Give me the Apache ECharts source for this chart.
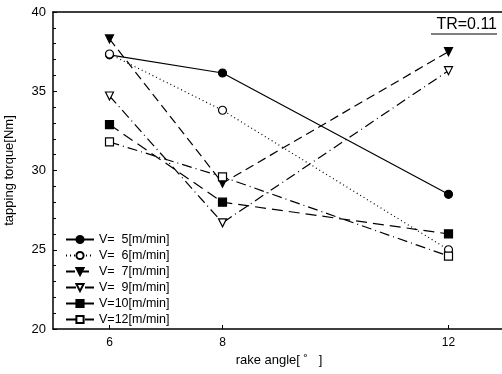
<!DOCTYPE html>
<html>
<head>
<meta charset="utf-8">
<script src="https://cdn.jsdelivr.net/npm/echarts@6/dist/echarts.min.js"></script>
<style>
  html, body { margin: 0; padding: 0; background: #fff; }
  #chart { width: 502px; height: 374px; }
</style>
</head>
<body>
<div id="chart"></div>
<script>
// Rake angle [deg] and tapping torque [Nm] per cutting speed
const rakeAngles = [6, 8, 12];
const xTickLabels = [6, 8, 12];
const yTicks = [20, 25, 30, 35, 40];

const v5 = [37.3, 36.15, 28.5];
const v6 = [37.35, 33.8, 25.0];
const v7 = [38.3, 29.2, 37.5];
const v9 = [34.7, 26.7, 36.3];
const v10 = [32.9, 28.0, 26.0];
const v12 = [31.8, 29.6, 24.6];

const seriesNames = [
  'V=  5[m/min]', 'V=  6[m/min]', 'V=  7[m/min]',
  'V=  9[m/min]', 'V=10[m/min]', 'V=12[m/min]'
];
const seriesValues = [v5, v6, v7, v9, v10, v12];

// Marker and stroke pattern for each speed
const styles = [
  { symbol: 'circle', fill: '#000', dash: 'solid' },
  { symbol: 'circle', fill: '#fff', dash: [1, 3] },
  { symbol: 'triangle', fill: '#000', dash: [9, 5], rotate: 180 },
  { symbol: 'triangle', fill: '#fff', dash: [10, 4, 1, 4], rotate: 180 },
  { symbol: 'rect', fill: '#000', dash: [11, 6] },
  { symbol: 'rect', fill: '#fff', dash: [10, 4, 1, 4] }
];

const FONT = '"Liberation Sans", Arial, sans-serif';

const series = seriesValues.map((vals, i) => ({
  name: seriesNames[i],
  type: 'line',
  data: rakeAngles.map((x, j) => [x, vals[j]]),
  symbol: styles[i].symbol,
  symbolSize: 8,
  symbolRotate: styles[i].rotate || 0,
  showAllSymbol: true,
  lineStyle: { color: '#000', width: 1.2, type: styles[i].dash },
  itemStyle: { color: styles[i].fill, borderColor: '#000', borderWidth: 1.2 },
  animation: false,
  z: 3
}));

const chart = echarts.init(document.getElementById('chart'), null, { renderer: 'canvas' });
chart.setOption({
  animation: false,
  backgroundColor: '#fff',
  grid: {
    left: 53, top: 12, width: 452, height: 317,
    outerBoundsMode: 'none', containLabel: false, show: false
  },
  xAxis: [
    {
      type: 'value', min: 5, max: 13, interval: 1,
      name: 'rake angle[ \u02DA   ]', nameLocation: 'middle', nameGap: 21,
      nameTextStyle: { fontFamily: FONT, fontSize: 13, color: '#000' },
      axisLine: { onZero: false, lineStyle: { color: '#000', width: 1.5 } },
      axisTick: { inside: true, length: 4, customValues: xTickLabels, lineStyle: { color: '#000' } },
      axisLabel: { customValues: xTickLabels, fontFamily: FONT, fontSize: 12, color: '#000', margin: 8 },
      splitLine: { show: false }
    },
    {
      // top frame line
      type: 'value', position: 'top', min: 5, max: 13,
      axisLine: { onZero: false, lineStyle: { color: '#000', width: 1.5 } },
      axisTick: { show: false }, axisLabel: { show: false }, splitLine: { show: false }
    }
  ],
  yAxis: {
    type: 'value', min: yTicks[0], max: yTicks[yTicks.length - 1], interval: 5,
    name: 'tapping torque[Nm]', nameLocation: 'middle', nameGap: 37,
    nameTextStyle: { fontFamily: FONT, fontSize: 13, color: '#000' },
    axisLine: { lineStyle: { color: '#000', width: 1.5 } },
    axisTick: { inside: true, length: 4, lineStyle: { color: '#000' } },
    minorTick: { show: true, splitNumber: 5, length: 3, lineStyle: { color: '#000' } },
    axisLabel: { fontFamily: FONT, fontSize: 13, color: '#000', margin: 7 },
    splitLine: { show: false }
  },
  legend: {
    orient: 'vertical', left: 60, top: 228,
    itemWidth: 28, itemHeight: 9, itemGap: 3,
    textStyle: { fontFamily: FONT, fontSize: 12.5, color: '#000' },
    data: seriesNames
  },
  graphic: [
    {
      type: 'text', right: 5, top: 17,
      style: { text: 'TR=0.11', font: '16px ' + FONT, fill: '#000' }
    },
    {
      type: 'line', shape: { x1: 431, y1: 34, x2: 497, y2: 34 },
      style: { stroke: '#000', lineWidth: 1 }
    }
  ],
  series: series
});
</script>
</body>
</html>
